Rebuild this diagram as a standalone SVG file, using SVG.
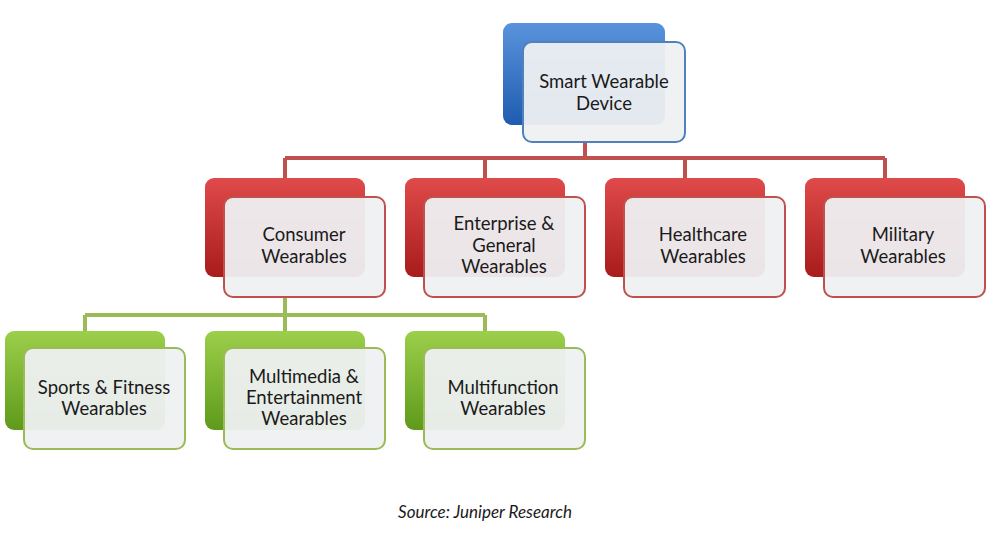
<svg xmlns="http://www.w3.org/2000/svg" width="995" height="539" viewBox="0 0 995 539">
<defs>
<linearGradient id="gb" x1="0" y1="0" x2="0" y2="1"><stop offset="0" stop-color="#5a93dc"/><stop offset="1" stop-color="#1f5cb0"/></linearGradient>
<linearGradient id="gr" x1="0" y1="0" x2="0" y2="1"><stop offset="0" stop-color="#e04a4a"/><stop offset="1" stop-color="#a81c1c"/></linearGradient>
<linearGradient id="gg" x1="0" y1="0" x2="0" y2="1"><stop offset="0" stop-color="#9ccf4a"/><stop offset="1" stop-color="#5f9a1c"/></linearGradient>
</defs>
<style>
.front{fill:#eef0f2;fill-opacity:0.95;stroke-width:2}
.fb{stroke:#4f81bd}.fr{stroke:#c0504d}.fg{stroke:#9bbb59}
.t{font-family:Lato,"Open Sans",sans-serif;font-size:18.5px;fill:#1a1a1a;text-anchor:middle}
.lr{stroke:#c0504d;stroke-width:4;fill:none}.lg{stroke:#9bbb59;stroke-width:4;fill:none}
</style>
<rect width="995" height="539" fill="#fff"/>
<g id="connectors">
<path class="lr" d="M585 142V158M285 158H885M285 158V178M485 158V178M685 158V178M885 158V178"/>
<path class="lg" d="M285 297V315M85 315H485M85 315V331M285 315V331M485 315V331"/>
</g>
<g id="root"><rect x="503" y="23" width="162" height="102" rx="9" fill="url(#gb)"/><rect class="front fb" x="523" y="42" width="162" height="100" rx="9"/><text class="t" x="604" y="88">Smart Wearable</text><text class="t" x="604" y="110">Device</text></g>
<g id="consumer"><rect x="205" y="178" width="160" height="99" rx="9" fill="url(#gr)"/><rect class="front fr" x="224" y="197" width="161" height="100" rx="9"/><text class="t" x="304" y="241">Consumer</text><text class="t" x="304" y="263">Wearables</text></g>
<g id="enterprise"><rect x="405" y="178" width="160" height="99" rx="9" fill="url(#gr)"/><rect class="front fr" x="424" y="197" width="161" height="100" rx="9"/><text class="t" x="504" y="230">Enterprise &amp;</text><text class="t" x="504" y="252">General</text><text class="t" x="504" y="273">Wearables</text></g>
<g id="healthcare"><rect x="605" y="178" width="160" height="99" rx="9" fill="url(#gr)"/><rect class="front fr" x="624" y="197" width="161" height="100" rx="9"/><text class="t" x="703" y="241">Healthcare</text><text class="t" x="703" y="263">Wearables</text></g>
<g id="military"><rect x="805" y="178" width="160" height="99" rx="9" fill="url(#gr)"/><rect class="front fr" x="824" y="197" width="161" height="100" rx="9"/><text class="t" x="903" y="241">Military</text><text class="t" x="903" y="263">Wearables</text></g>
<g id="sports"><rect x="5" y="331" width="160" height="99" rx="9" fill="url(#gg)"/><rect class="front fg" x="24" y="348" width="161" height="101" rx="9"/><text class="t" x="104" y="394">Sports &amp; Fitness</text><text class="t" x="104" y="415">Wearables</text></g>
<g id="multimedia"><rect x="205" y="331" width="160" height="99" rx="9" fill="url(#gg)"/><rect class="front fg" x="224" y="348" width="161" height="101" rx="9"/><text class="t" x="304" y="383">Multimedia &amp;</text><text class="t" x="304" y="404">Entertainment</text><text class="t" x="304" y="425">Wearables</text></g>
<g id="multifunction"><rect x="405" y="331" width="160" height="99" rx="9" fill="url(#gg)"/><rect class="front fg" x="424" y="348" width="161" height="101" rx="9"/><text class="t" x="503" y="394">Multifunction</text><text class="t" x="503" y="415">Wearables</text></g>
<text x="485" y="518" style="font-family:Lato,'Open Sans',sans-serif;font-size:17px;font-style:italic;fill:#1a1a1a;text-anchor:middle">Source: Juniper Research</text>
</svg>
